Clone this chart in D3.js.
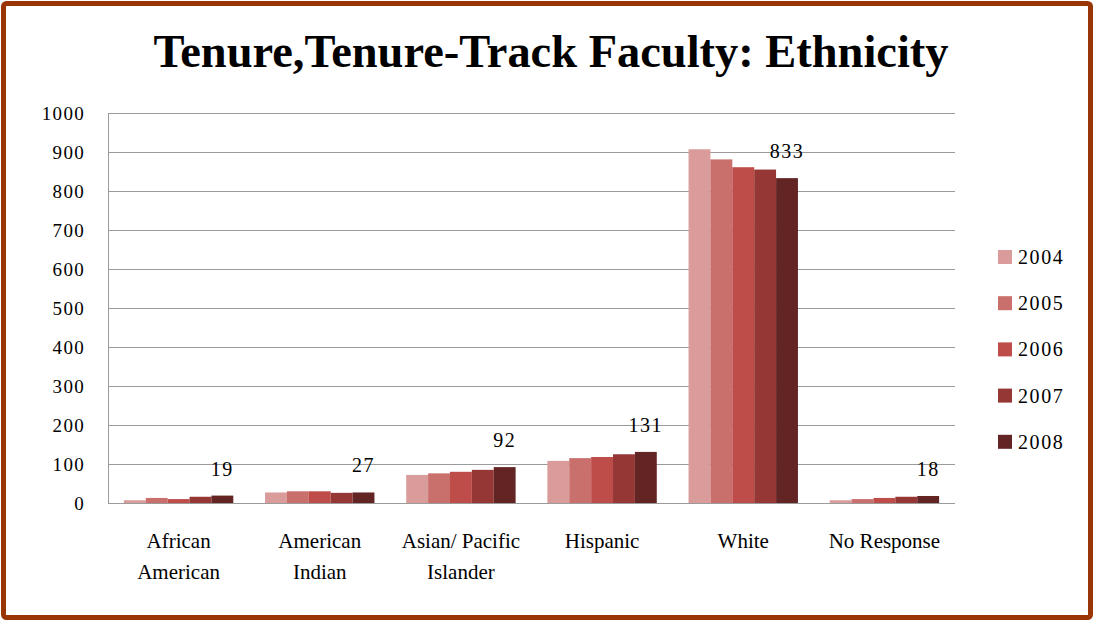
<!DOCTYPE html>
<html>
<head>
<meta charset="utf-8">
<script src="https://cdn.jsdelivr.net/npm/d3@7"></script>
<style>
  html, body { margin: 0; padding: 0; background: #fff; }
  svg text { font-family: "Liberation Serif", "DejaVu Serif", serif; fill: #000; }
</style>
</head>
<body>
<div id="chart"></div>
<script>
// Tenure / Tenure-Track Faculty by ethnicity, 2004-2008
const categories = ['African American', 'American Indian', 'Asian/ Pacific Islander', 'Hispanic', 'White', 'No Response'];
const categoryLines = [['African', 'American'], ['American', 'Indian'], ['Asian/ Pacific', 'Islander'], ['Hispanic'], ['White'], ['No Response']];
const years = ['2004', '2005', '2006', '2007', '2008'];
const values2004 = [7, 27, 72, 108, 907, 7];
const values2005 = [13, 30, 76, 115, 881, 10];
const values2006 = [10, 30, 80, 118, 861, 13];
const values2007 = [16, 26, 85, 125, 855, 16];
const values2008 = [19, 27, 92, 131, 833, 18];
const yTicks = [0, 100, 200, 300, 400, 500, 600, 700, 800, 900, 1000];
const yearColors = ['#D99C9B', '#C96F6C', '#BE4C49', '#943735', '#632524'];

const seriesValues = [values2004, values2005, values2006, values2007, values2008];

const width = 1094;
const height = 621;

const svg = d3.select('#chart')
    .append('svg')
    .attr('width', width)
    .attr('height', height);

// Outer frame
svg.append('rect')
    .attr('x', 3.5)
    .attr('y', 3.5)
    .attr('width', width - 7)
    .attr('height', height - 7)
    .attr('rx', 3)
    .attr('fill', '#fff')
    .attr('stroke', '#9A3505')
    .attr('stroke-width', 5);

// Title
svg.append('text')
    .attr('x', 551)
    .attr('y', 67)
    .attr('text-anchor', 'middle')
    .attr('textLength', 795)
    .attr('lengthAdjust', 'spacingAndGlyphs')
    .style('font-size', '47px')
    .style('font-weight', '700')
    .text('Tenure,Tenure-Track Faculty: Ethnicity');

// Scales
const x = d3.scaleBand()
    .domain(categories)
    .range([108, 955])
    .paddingInner(0.225)
    .paddingOuter(0.1125);

const xYear = d3.scaleBand()
    .domain(years)
    .range([0, x.bandwidth()]);

const y = d3.scaleLinear()
    .domain([0, 1000])
    .range([503, 113]);

const color = d3.scaleOrdinal()
    .domain(years)
    .range(yearColors);

// Gridlines
svg.append('g')
    .selectAll('line')
    .data(yTicks)
    .enter()
    .append('line')
    .attr('x1', 108)
    .attr('x2', 955)
    .attr('y1', d => Math.round(y(d)) + 0.5)
    .attr('y2', d => Math.round(y(d)) + 0.5)
    .attr('stroke', '#9b9b9b')
    .attr('stroke-width', 1);

// Y axis labels
const yAxis = d3.axisLeft(y)
    .tickValues(yTicks)
    .tickFormat(d3.format('d'))
    .tickSize(0)
    .tickPadding(0);

const yAxisG = svg.append('g')
    .attr('transform', 'translate(85,0)')
    .call(yAxis);
yAxisG.select('.domain').remove();
yAxisG.selectAll('text')
    .style('font-family', '"Liberation Serif", serif')
    .style('font-size', '19px')
    .style('letter-spacing', '1.3px')
    .attr('fill', '#000');

// Left axis line
svg.append('line')
    .attr('x1', 108.5)
    .attr('x2', 108.5)
    .attr('y1', y(1000))
    .attr('y2', y(0))
    .attr('stroke', '#9b9b9b');

// Bars
const seriesData = years.map((yr, i) => ({
    year: yr,
    values: categories.map((c, j) => ({ category: c, value: seriesValues[i][j] }))
}));

const groups = svg.append('g')
    .selectAll('g')
    .data(seriesData)
    .enter()
    .append('g')
    .attr('fill', d => color(d.year));

groups.selectAll('rect')
    .data(d => d.values.map(v => ({ ...v, year: d.year })))
    .enter()
    .append('rect')
    .attr('x', d => x(d.category) + xYear(d.year))
    .attr('y', d => y(d.value))
    .attr('width', xYear.bandwidth())
    .attr('height', d => y(0) - y(d.value));

// Data labels on 2008 bars
svg.append('g')
    .selectAll('text')
    .data(categories.map((c, j) => ({ category: c, value: values2008[j] })))
    .enter()
    .append('text')
    .attr('x', d => x(d.category) + xYear('2008') + xYear.bandwidth() / 2)
    .attr('y', d => y(d.value) - 20)
    .attr('text-anchor', 'middle')
    .style('font-size', '20px')
    .style('letter-spacing', '1.5px')
    .text(d => d.value);

// Category labels
const catLabels = svg.append('g')
    .selectAll('text')
    .data(categories)
    .enter()
    .append('text')
    .attr('text-anchor', 'middle')
    .style('font-size', '21px');

catLabels.each(function(d, i) {
    const t = d3.select(this);
    categoryLines[i].forEach((line, k) => {
        t.append('tspan')
            .attr('x', x(d) + x.bandwidth() / 2)
            .attr('y', 548 + k * 31)
            .text(line);
    });
});

// Legend
const legend = svg.append('g')
    .selectAll('g')
    .data(years)
    .enter()
    .append('g')
    .attr('transform', (d, i) => `translate(998, ${257 + i * 46.2})`);

legend.append('rect')
    .attr('x', 0)
    .attr('y', -7)
    .attr('width', 14)
    .attr('height', 14)
    .attr('fill', d => color(d));

legend.append('text')
    .attr('x', 20)
    .attr('y', 7)
    .style('font-size', '20px')
    .style('letter-spacing', '1.6px')
    .text(d => d);
</script>
</body>
</html>
